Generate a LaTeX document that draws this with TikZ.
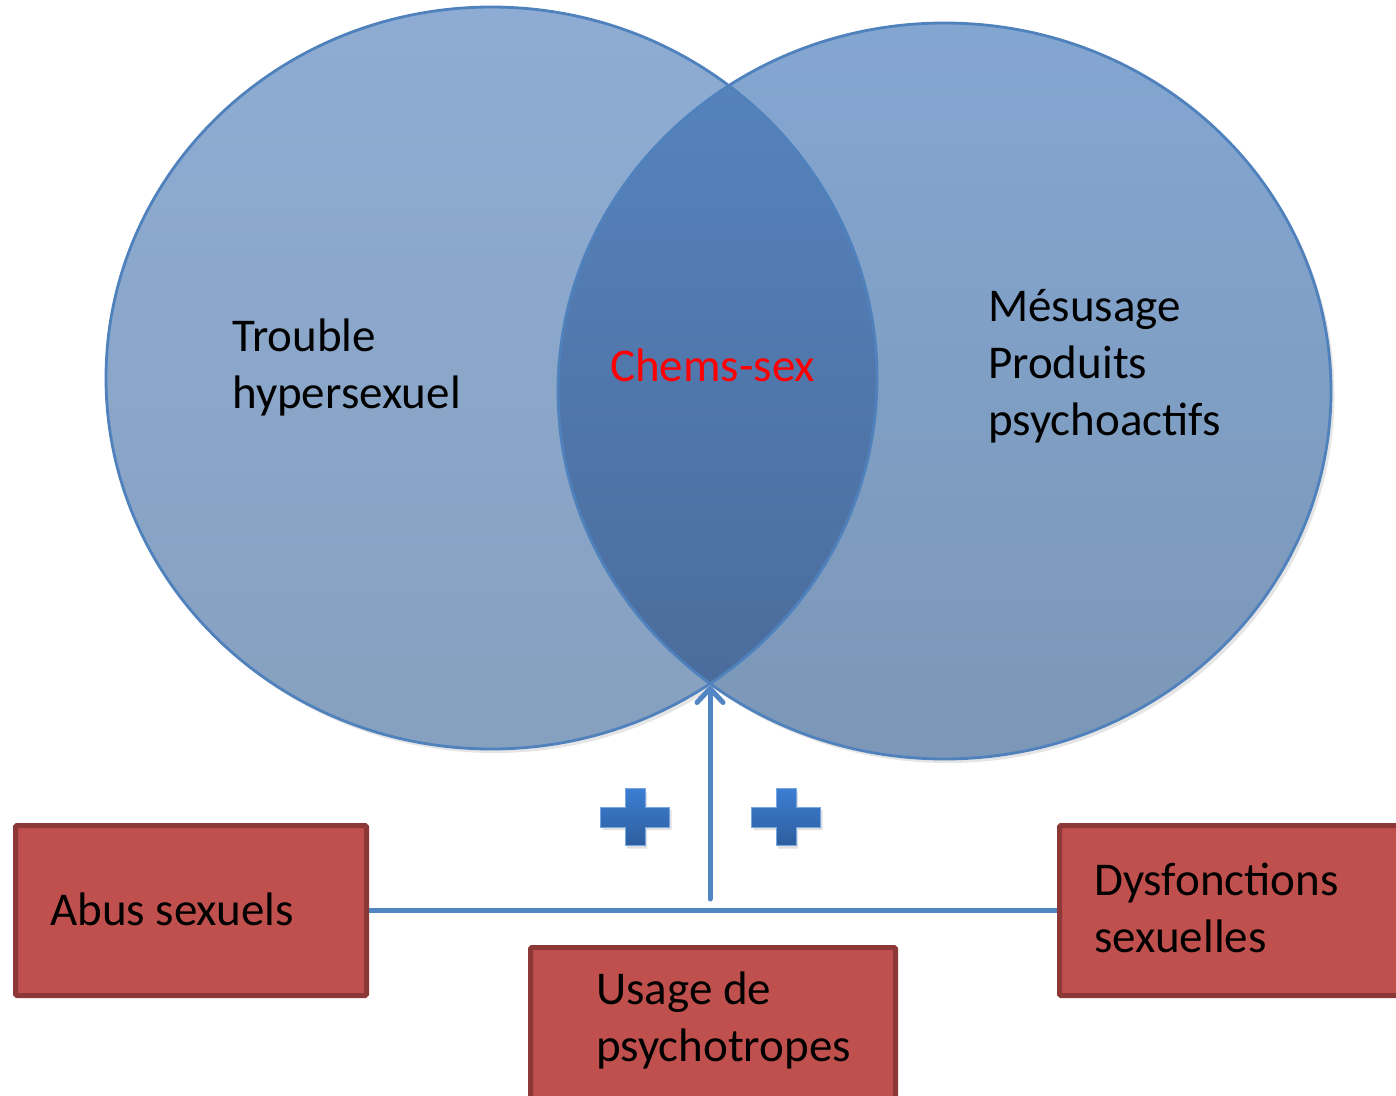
\documentclass[tikz,border=0pt]{standalone}
\usepackage{fontspec}
\setmainfont{Carlito}
\usetikzlibrary{arrows.meta}
\definecolor{edgeblue}{RGB}{79,129,189}
\definecolor{linkblue}{RGB}{82,133,196}
\definecolor{lefttop}{RGB}{142,172,211}
\definecolor{leftbot}{RGB}{134,160,191}
\definecolor{righttop}{RGB}{131,166,209}
\definecolor{rightbot}{RGB}{124,151,183}
\definecolor{midtop}{RGB}{87,132,191}
\definecolor{midbot}{RGB}{73,106,152}
\definecolor{boxfill}{RGB}{192,80,77}
\definecolor{boxedge}{RGB}{140,56,54}
\definecolor{plustop}{RGB}{60,126,210}
\definecolor{plusbot}{RGB}{45,94,158}
\definecolor{chemred}{RGB}{255,0,0}
\tikzset{
  bigtext/.style={font=\fontsize{47}{57}\selectfont, align=left, inner sep=0pt},
  redbox/.style={draw=boxedge, line width=5pt, fill=boxfill, rounded corners=1.5pt},
  link/.style={draw=linkblue, line width=5pt},
  plusshape/.style={top color=plustop, bottom color=plusbot, draw=plustop!70!white, line width=0.8pt}
}
\begin{document}
\begin{tikzpicture}[x=1pt,y=-1pt]
\useasboundingbox (0,0) rectangle (1396,1095);
\clip (0,0) rectangle (1396,1095);
% shadows
\fill[black, opacity=0.10] (494.5,382) ellipse [x radius=386, y radius=371];
\fill[black, opacity=0.10] (947.5,395) ellipse [x radius=387, y radius=368];
% circles
\shade[top color=lefttop, bottom color=leftbot] (491.5,378) ellipse [x radius=385.5, y radius=371];
\shade[top color=righttop, bottom color=rightbot] (944.5,391) ellipse [x radius=386.5, y radius=368];
\begin{scope}
  \clip (491.5,378) ellipse [x radius=385.5, y radius=371];
  \shade[top color=midtop, bottom color=midbot] (944.5,391) ellipse [x radius=386.5, y radius=368];
\end{scope}
\draw[edgeblue, line width=2.8pt] (491.5,378) ellipse [x radius=385.5, y radius=371];
\draw[edgeblue, line width=2.8pt] (944.5,391) ellipse [x radius=386.5, y radius=368];
% circle texts (base anchor = baseline of last line)
\node[bigtext, anchor=base west] (trouble) at (232,408) {Trouble\\hypersexuel};
\node[bigtext, anchor=base west, text=chemred] (chems) at (610,381) {Chems-sex};
\node[bigtext, anchor=base west] (mesusage) at (988,435) {Mésusage\\Produits\\psychoactifs};
% boxes
\node[redbox, minimum width=351pt, minimum height=170pt, anchor=north west] (abus) at (13,823) {};
\node[bigtext, anchor=base west] (abustext) at (50,925) {Abus sexuels};
\node[redbox, minimum width=366pt, minimum height=170pt, anchor=north west] (dys) at (1057,823) {};
\node[bigtext, anchor=base west] (dystext) at (1094,952) {Dysfonctions\\sexuelles};
\node[redbox, minimum width=365pt, minimum height=170pt, anchor=north west] (usage) at (528,945) {};
\node[bigtext, anchor=base west] (usagetext) at (596,1061) {Usage de\\psychotropes};
% connectors
\coordinate (junction) at (710,899);
\coordinate (tip) at (710,686);
\draw[link] (abus.east) -- (abus.east -| dys.west);
\draw[linkblue, line width=5pt, line cap=round, -{Straight Barb[length=14pt, width=26pt, line cap=round, line join=round]}] (junction) -- (tip);
% plus signs
\foreach \cx in {635, 786}{
  \fill[black, opacity=0.12] (\cx-34.5+2,817-10+3) -- ++(24.5,0) -- ++(0,-18.5) -- ++(20,0) -- ++(0,18.5) -- ++(24.5,0) -- ++(0,20) -- ++(-24.5,0) -- ++(0,18.5) -- ++(-20,0) -- ++(0,-18.5) -- ++(-24.5,0) -- cycle;
  \path[plusshape] (\cx-34.5,817-10) -- ++(24.5,0) -- ++(0,-18.5) -- ++(20,0) -- ++(0,18.5) -- ++(24.5,0) -- ++(0,20) -- ++(-24.5,0) -- ++(0,18.5) -- ++(-20,0) -- ++(0,-18.5) -- ++(-24.5,0) -- cycle;
}
\end{tikzpicture}
\end{document}
